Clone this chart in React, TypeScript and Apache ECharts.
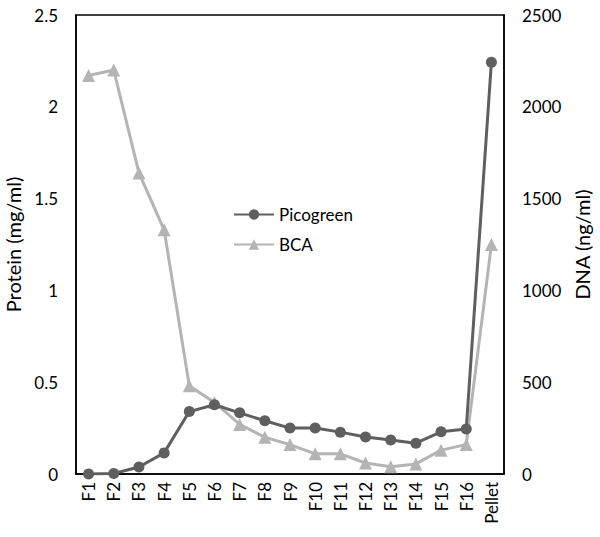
import React, { useEffect, useRef } from "react";
import * as echarts from "echarts";

const categories = ["F1", "F2", "F3", "F4", "F5", "F6", "F7", "F8", "F9", "F10", "F11", "F12", "F13", "F14", "F15", "F16", "Pellet"];
const picogreen = [0, 3, 38, 115, 340, 377, 333, 290, 250, 250, 228, 202, 185, 168, 230, 245, 2243];
const bca = [2.17, 2.2, 1.64, 1.33, 0.48, 0.39, 0.27, 0.2, 0.16, 0.11, 0.11, 0.06, 0.04, 0.055, 0.13, 0.16, 1.25];

const FONT = "Lato";

export default function App() {
  const ref = useRef<HTMLDivElement>(null);
  useEffect(() => {
    if (!ref.current) return;
    const chart = echarts.init(ref.current, null, { renderer: "svg" });
    chart.setOption({
      animation: false,
      textStyle: { fontFamily: FONT, color: "#000" },
      grid: {
        left: 76,
        right: 96,
        top: 15,
        bottom: 63,
        containLabel: false,
        outerBoundsMode: "none",
        show: true,
        borderColor: "#000",
        borderWidth: 1.5,
        backgroundColor: "transparent",
      },
      legend: {
        orient: "vertical",
        left: 228,
        top: 201,
        itemWidth: 40,
        itemHeight: 13,
        itemGap: 13,
        textStyle: { fontFamily: FONT, fontSize: 17, color: "#000" },
        data: ["Picogreen", "BCA"],
      },
      xAxis: {
        type: "category",
        data: categories,
        boundaryGap: true,
        axisLine: { lineStyle: { color: "#000", width: 1.5 } },
        axisTick: { show: false },
        axisLabel: { rotate: 90, fontSize: 17, color: "#000", margin: 8, fontFamily: FONT, interval: 0 },
      },
      yAxis: [
        {
          type: "value",
          min: 0,
          max: 2.5,
          interval: 0.5,
          name: "Protein (mg/ml)",
          nameLocation: "middle",
          nameGap: 46,
          nameTextStyle: { fontSize: 20, color: "#000", fontFamily: FONT },
          axisLine: { show: true, lineStyle: { color: "#000", width: 1.5 } },
          axisTick: { show: false },
          splitLine: { show: false },
          axisLabel: { fontSize: 17, color: "#000", margin: 18, fontFamily: FONT },
        },
        {
          type: "value",
          min: 0,
          max: 2500,
          interval: 500,
          name: "DNA (ng/ml)",
          nameLocation: "middle",
          nameGap: 66,
          nameTextStyle: { fontSize: 20, color: "#000", fontFamily: FONT },
          axisLine: { show: true, lineStyle: { color: "#000", width: 1.5 } },
          axisTick: { show: false },
          splitLine: { show: false },
          axisLabel: { fontSize: 17, color: "#000", margin: 18, fontFamily: FONT, formatter: (v: number) => String(v) },
        },
      ],
      series: [
        {
          name: "Picogreen",
          type: "line",
          yAxisIndex: 1,
          data: picogreen,
          symbol: "circle",
          symbolSize: 11,
          lineStyle: { color: "#5f5f5f", width: 3 },
          itemStyle: { color: "#5f5f5f" },
          z: 3,
        },
        {
          name: "BCA",
          type: "line",
          yAxisIndex: 0,
          data: bca,
          symbol: "triangle",
          symbolSize: 13,
          lineStyle: { color: "#b4b4b4", width: 3 },
          itemStyle: { color: "#b4b4b4" },
          z: 2,
        },
      ],
    });
    return () => chart.dispose();
  }, []);
  return <div ref={ref} style={{ width: 600, height: 537, position: "absolute", left: 0, top: 0 }} />;
}
